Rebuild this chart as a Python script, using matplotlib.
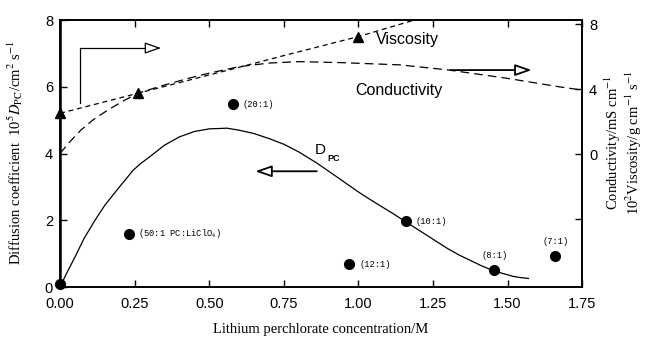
import matplotlib.pyplot as plt

plt.rcParams['mathtext.fontset'] = 'stix'

# diffusion coefficient curve (left axis, 10^5 D_PC / cm2 s-1)
d_x = [0, 0.02, 0.05, 0.08, 0.117, 0.15, 0.19, 0.245, 0.27, 0.3, 0.35, 0.4,
       0.45, 0.5, 0.53, 0.56, 0.6, 0.65, 0.7, 0.75, 0.8, 0.86, 0.92, 0.96,
       1.0, 1.04, 1.08, 1.12, 1.16, 1.2, 1.23, 1.27, 1.3, 1.34, 1.38, 1.41,
       1.45, 1.48, 1.52, 1.54, 1.57]
d_y = [0, 0.38, 0.9, 1.45, 2.0, 2.45, 2.9, 3.5, 3.7, 3.9, 4.25, 4.5,
       4.66, 4.74, 4.75, 4.76, 4.7, 4.6, 4.45, 4.28, 4.05, 3.72, 3.35, 3.1,
       2.85, 2.62, 2.4, 2.18, 1.95, 1.72, 1.55, 1.32, 1.15, 0.95, 0.78, 0.65,
       0.5, 0.42, 0.32, 0.29, 0.26]

# measured points with PC:LiClO4 ratios
pt_x = [0.0, 0.23, 0.58, 0.97, 1.16, 1.455, 1.66]
pt_y = [0.1, 1.6, 5.48, 0.69, 1.98, 0.51, 0.93]
pt_lab = ['', '(50:1 PC:LiClO$_4$)', '(20:1)', '(12:1)', '(10:1)', '(8:1)', '(7:1)']

# conductivity (right axis, mS/cm)
c_x = [0, 0.03, 0.07, 0.11, 0.16, 0.21, 0.26, 0.34, 0.43, 0.5, 0.6, 0.7,
       0.8, 0.94, 1.14, 1.3, 1.5, 1.67, 1.75]
c_y = [0.04, 0.7, 1.48, 2.1, 2.71, 3.25, 3.74, 4.2, 4.66, 4.98, 5.38, 5.6,
       5.69, 5.63, 5.49, 5.18, 4.66, 4.15, 3.94]

# viscosity (right axis, 10^2 g/cm s)
v_x = [0, 0.26, 0.43, 0.6, 0.75, 1.0, 1.19]
v_y = [2.51, 3.74, 4.54, 5.34, 6.06, 7.23, 8.26]
vp_x = [0, 0.26, 1.0]
vp_y = [2.51, 3.74, 7.23]

sans = 'Liberation Sans'
serif = 'Liberation Serif'
mono = 'Liberation Mono'


def main():
    fig = plt.figure(figsize=(6.49, 3.39), dpi=100)
    ax = fig.add_axes([0.0925, 0.153, 0.8045, 0.788])
    ax2 = ax.twinx()

    ax.plot(d_x, d_y, color='black', lw=0.9)
    ax.plot(pt_x, pt_y, 'o', color='black', ms=7, clip_on=False, zorder=5)
    for x, y, lab in zip(pt_x, pt_y, pt_lab):
        if not lab:
            continue
        if lab in ('(8:1)', '(7:1)'):
            ax.annotate(lab, (x, y), xytext=(0, 7), textcoords='offset points',
                        ha='center', va='bottom', fontsize=6.3, family=mono)
        else:
            ax.annotate(lab, (x, y), xytext=(7, 0), textcoords='offset points',
                        ha='left', va='center', fontsize=6.3, family=mono)

    ax2.plot(c_x, c_y, color='black', lw=0.9, dashes=(7, 4))
    ax2.plot(v_x, v_y, color='black', lw=0.9, dashes=(4, 3))
    ax2.plot(vp_x, vp_y, '^', color='black', ms=7, clip_on=False, zorder=5)

    # arrows pointing to the axes each curve belongs to
    ax.plot([0.067, 0.067, 0.30], [5.5, 7.16, 7.16], color='black', lw=0.9)
    ax.annotate('', xy=(0.348, 7.16), xytext=(0.29, 7.16),
                arrowprops=dict(arrowstyle='-|>,head_length=1.0,head_width=0.35',
                                fc='white', ec='black', lw=0.9))
    ax.annotate('', xy=(1.59, 6.5), xytext=(1.30, 6.5),
                arrowprops=dict(arrowstyle='-|>,head_length=1.0,head_width=0.35',
                                fc='white', ec='black', lw=1.3))
    ax.annotate('', xy=(0.645, 3.47), xytext=(0.87, 3.47),
                arrowprops=dict(arrowstyle='-|>,head_length=1.0,head_width=0.35',
                                fc='white', ec='black', lw=1.3))

    ax.text(1.165, 7.42, 'Viscosity', ha='center', va='center', fontsize=11.5, family=sans)
    ax.text(1.137, 5.9, 'Conductivity', ha='center', va='center', fontsize=11.5, family=sans)
    ax.text(0.853, 4.1, 'D', ha='left', va='center', fontsize=11, family=sans)
    ax.text(0.895, 3.85, 'PC', ha='left', va='center', fontsize=6.5, family=sans,
            fontweight='bold')

    ax.set_xlim(0, 1.75)
    ax.set_ylim(0, 8)
    ax2.set_ylim(-8.18, 8.25)
    ax.set_xticks([0, 0.25, 0.5, 0.75, 1.0, 1.25, 1.5, 1.75])
    ax.set_xticklabels(['0.00', '0.25', '0.50', '0.75', '1.00', '1.25', '1.50', '1.75'])
    ax.set_yticks([0, 2, 4, 6, 8])
    ax2.set_yticks([8, 4, 0, -4])
    ax2.set_yticklabels(['8', '4', '0', ''])

    for a in (ax, ax2):
        a.tick_params(direction='in', length=5, width=1, labelsize=10.5, pad=5)
        for lab in a.get_xticklabels() + a.get_yticklabels():
            lab.set_family(sans)
        for s in a.spines.values():
            s.set_linewidth(1.2)
    ax.tick_params(top=True)
    ax.tick_params(axis='x', pad=7)
    ax.spines['left'].set_linewidth(1.8)

    ax.set_xlabel('Lithium perchlorate concentration/M', family=serif, fontsize=10.5,
                  labelpad=9)
    fig.text(0.024, 0.55, r'Diffusion coefficient  10$^5$$D_{\rm PC}$/cm$^2$ s$^{-1}$',
             rotation=90, family=serif, fontsize=10.5, ha='center', va='center')
    fig.text(0.945, 0.58, r'Conductivity/mS cm$^{-1}$', rotation=90, family=serif,
             fontsize=10.5, ha='center', va='center')
    fig.text(0.977, 0.58, r'10$^2$Viscosity/g cm$^{-1}$ s$^{-1}$', rotation=90,
             family=serif, fontsize=10.5, ha='center', va='center')

    fig.savefig('out.png', dpi=100)


if __name__ == "__main__":
    main()
